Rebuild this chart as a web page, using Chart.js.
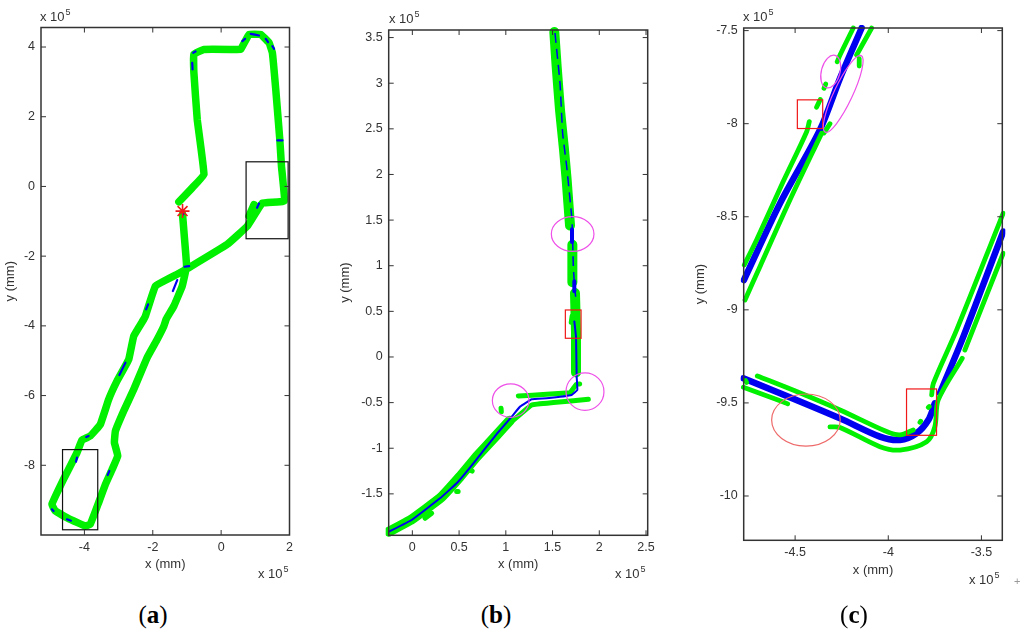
<!DOCTYPE html>
<html>
<head>
<meta charset="utf-8">
<script src="https://cdn.jsdelivr.net/npm/chart.js@4/dist/chart.umd.min.js"></script>
<style>
  html, body { margin: 0; background: #fff; width: 1024px; height: 636px; overflow: hidden; }
  canvas { position: absolute; top: 0; }
  .exp { position: absolute; font: 13px "Liberation Sans", sans-serif; color: #333; white-space: nowrap; }
  .exp sup { font-size: 9px; position: relative; top: -6px; vertical-align: baseline; margin-left: 1px; }
  .cap { position: absolute; top: 601px; font: 25px "Liberation Serif", serif; color: #000; transform: translateX(-50%); }
  .cap b { font-weight: bold; }
  .speck { position: absolute; left: 1014px; top: 575px; font: 11px "Liberation Sans", sans-serif; color: #999; }
</style>
</head>
<body>
<canvas id="chartA" width="337" height="572" style="left:3px"></canvas>
<canvas id="chartB" width="340" height="572" style="left:338px"></canvas>
<canvas id="chartC" width="331" height="578" style="left:693px"></canvas>

<div class="exp" style="left:40px;top:9px">x 10<sup>5</sup></div>
<div class="exp" style="left:258px;top:566px">x 10<sup>5</sup></div>
<div class="exp" style="left:389px;top:11px">x 10<sup>5</sup></div>
<div class="exp" style="left:615px;top:566px">x 10<sup>5</sup></div>
<div class="exp" style="left:743px;top:9px">x 10<sup>5</sup></div>
<div class="exp" style="left:969px;top:572px">x 10<sup>5</sup></div>
<div class="cap" style="left:153px">(<b>a</b>)</div>
<div class="cap" style="left:496px">(<b>b</b>)</div>
<div class="cap" style="left:854px">(<b>c</b>)</div>
<div class="speck">+</div>

<script>
const GREEN = "#00f000";
const BLUE = "#0000f0";
const RED = "#f01818";
const PINK = "#ee50e8";
const INK = "#333";

// panel a, whole route
const aTicksX = [-4, -2, 0, 2];
const aTicksY = [-8, -6, -4, -2, 0, 2, 4];
const aGreenX = [-1.129, -1.07, -1.012, -1.139, -1.383, -1.608, -1.677, -1.872, -2.165, -2.556, -2.849, -3.094, -3.123, -3.025, -3.19, -3.387, -3.583, -3.828, -3.974, -4.463, -4.853, -4.95, -4.609, -4.218, -4.072, -3.828, -3.535, -3.29, -3.045, -2.703, -2.556, -2.263, -2.215, -1.921, -1.285, -0.943, 0.181, 0.766, 1.206, 1.843, 1.765, 1.716, 1.598, 1.5, 1.403, 1.158, 0.816, 0.571, 0.376, -0.503, -0.797, -0.797, -0.699, -0.503, -0.846, -1.237, null, 0.963, 0.816];
const aGreenY = [-0.8, -1.52, -2.285, -2.86, -3.43, -3.81, -4.01, -4.39, -4.91, -5.82, -6.44, -7.02, -7.35, -7.73, -8.12, -8.55, -9.07, -9.69, -9.74, -9.53, -9.31, -9.12, -8.4, -7.64, -7.28, -7.16, -6.83, -6.11, -5.58, -4.96, -4.29, -3.81, -3.72, -2.86, -2.52, -2.33, -1.66, -1.14, -0.48, -0.42, 0.58, 1.35, 2.78, 3.83, 4.12, 4.36, 4.36, 3.93, 3.93, 3.93, 3.79, 3.26, 1.92, 0.34, -0.04, -0.44, null, -0.52, -0.85];
const aBlueX = [0.865, 1.109, null, 1.305, 1.373, null, 1.5, 1.549, null, 1.647, 1.794, null, -0.816, -0.748, null, -0.846, -0.836, null, 1.051, 1.109, null, -1.129, -1.109, null, -1.07, -0.934, null, -1.413, -1.285, null, 0.621, 0.699, null, -2.977, -2.8, null, -4.218, -4.247, null, -3.319, -3.27, null, -4.951, -4.902, null, -4.511, -4.394, null, -3.946, -3.877, null, -2.136, -2.195];
const aBlueY = [4.379, 4.331, null, 4.235, 4.14, null, 4.025, 3.948, null, 1.319, 1.319, null, 3.834, 3.872, null, 3.547, 3.356, null, -0.612, -0.488, null, -0.679, -0.803, null, -2.304, -2.285, null, -3.002, -2.686, null, 4.168, 4.235, null, -5.411, -5.057, null, -7.782, -7.897, null, -8.279, -8.164, null, -9.264, -9.312, null, -9.55, -9.589, null, -7.189, -7.161, null, -3.384, -3.528];
const aStartX = [-1.129];
const aStartY = [-0.707];

// panel b, zoom on the right hand corner
const bTicksX = [0, 0.5, 1, 1.5, 2, 2.5];
const bTicksY = [-1.5, -1, -0.5, 0, 0.5, 1, 1.5, 2, 2.5, 3, 3.5];
const bGreenX = [1.519, 1.544, 1.58, 1.623, 1.651, 1.687, null, 1.712, 1.712, null, 1.74, 1.751, 1.751, null, -0.25, -0.007, 0.296, 0.51, 0.688, 0.902, 1.04];
const bGreenY = [3.56, 3.181, 2.706, 2.268, 1.939, 1.44, null, 1.23, 0.82, null, 0.7, 0.259, -0.17, null, -1.914, -1.779, -1.549, -1.311, -1.092, -0.855, -0.7];
const bThinX = [1.063, 1.277, 1.509, 1.883, null, 1.134, 1.437, 1.687, null, 1.69, 1.755, 1.79, null, 0.949, 0.952, null, 0.474, 0.49, null, 0.207, 0.136, null, 0.617, 0.64, null, 1.71, 1.7];
const bThinY = [-0.708, -0.526, -0.5, -0.464, null, -0.427, -0.409, -0.391, null, -0.39, -0.3, -0.295, null, -0.562, -0.599, null, -1.475, -1.475, null, -1.713, -1.768, null, -1.238, -1.25, null, 0.45, 0.38];
const bDashX = [1.526, 1.58, 1.608, 1.651, 1.705, 1.712, 1.722, 1.733, 1.747];
const bDashY = [3.55, 3.0, 2.45, 2.09, 1.54, 1.4, 1.0, 0.81, 0.66];
const bThickX = [1.708, 1.708, null, 1.733, 1.733];
const bThickY = [1.4, 1.26, null, 0.83, 0.72];
const bBlueX = [1.733, 1.751, 1.758, 1.765, 1.705, 1.437, 1.277, 1.152, 1.063, 0.902, 0.653, 0.474, 0.296, -0.007, -0.25];
const bBlueY = [0.39, 0.22, -0.215, -0.362, -0.416, -0.453, -0.464, -0.544, -0.654, -0.844, -1.165, -1.384, -1.549, -1.786, -1.914];

// panel c, zoom on the bottom corner
const cTicksX = [-4.5, -4, -3.5];
const cTicksY = [-10, -9.5, -9, -8.5, -8, -7.5];
const cBlueX = [-4.775, -4.581, -4.367, -4.259, -4.143, null, -4.778, -4.581, -4.259, -4.045, -3.937, -3.848, -3.785, -3.75, null, -3.723, -3.597, -3.383];
const cBlueY = [-8.84, -8.428, -8.034, -7.756, -7.486, null, -9.368, -9.448, -9.583, -9.681, -9.699, -9.663, -9.592, -9.502, null, -9.448, -9.144, -8.58];
const cGreenX = [-4.773, -4.707, -4.564, -4.438, -4.424, null, -4.385, -4.365, null, -4.336, -4.345, null, -4.274, -4.259, -4.188, null, -4.769, -4.689, -4.528, -4.358, null, -4.345, -4.313, null, -4.17, -4.089, null, -4.156, -4.156, null, -4.703, -4.492, -4.259, -4.009, -3.937, -3.866, null, -3.83, -3.826, null, -3.785, -3.78, null, -3.767, -3.758, -3.633, -3.401, -3.383, null, -4.778, -4.581, -4.54, null, -4.313, -4.259, -4.045, -3.937, -3.794, -3.75, -3.732, -3.603, null, -3.589, -3.383, null, -4.766, -4.76];
const cGreenY = [-8.759, -8.625, -8.311, -8.043, -7.989, null, -7.912, -7.87, null, -7.787, -7.81, null, -7.667, -7.631, -7.486, null, -8.947, -8.768, -8.41, -8.052, null, -8.05, -8.0, null, -7.631, -7.486, null, -7.65, -7.69, null, -9.355, -9.439, -9.538, -9.654, -9.672, -9.645, null, -9.604, -9.598, null, -9.524, -9.519, null, -9.457, -9.395, -9.108, -8.526, -8.481, null, -9.416, -9.488, -9.505, null, -9.629, -9.632, -9.735, -9.753, -9.708, -9.628, -9.484, -9.26, null, -9.216, -8.696, null, -9.38, -9.39];

const pts = (xs, ys) => xs.map((x, i) => ({ x: x, y: ys[i] }));

function line(data, color, width, dash, tension) {
    return {
        data: data,
        showLine: true,
        pointRadius: 0,
        borderColor: color,
        borderWidth: width,
        borderDash: dash || [],
        borderCapStyle: dash ? "butt" : "round",
        borderJoinStyle: "round",
        // no tension would switch on the fast path, and that one drops the short pieces
        tension: tension || 0.08,
        clip: 3,
    };
}

// boxes and rings in data units, the rings rotate in degrees
const framePlugin = {
    id: "frame",
    afterDatasetsDraw(chart, args, opts) {
        const ctx = chart.ctx;
        const { left, right, top, bottom } = chart.chartArea;
        const sx = chart.scales.x;
        const sy = chart.scales.y;
        ctx.save();
        (opts.rects || []).forEach((r) => {
            ctx.strokeStyle = r.color;
            ctx.lineWidth = 1.2;
            ctx.strokeRect(sx.getPixelForValue(r.x0), sy.getPixelForValue(r.y0),
                sx.getPixelForValue(r.x1) - sx.getPixelForValue(r.x0),
                sy.getPixelForValue(r.y1) - sy.getPixelForValue(r.y0));
        });
        (opts.rings || []).forEach((r) => {
            ctx.strokeStyle = r.color;
            ctx.lineWidth = 1.2;
            ctx.beginPath();
            ctx.ellipse(sx.getPixelForValue(r.cx), sy.getPixelForValue(r.cy),
                Math.abs(sx.getPixelForValue(r.cx + r.rx) - sx.getPixelForValue(r.cx)),
                Math.abs(sy.getPixelForValue(r.cy + r.ry) - sy.getPixelForValue(r.cy)),
                (r.rot || 0) * Math.PI / 180, 0, Math.PI * 2);
            ctx.stroke();
        });
        ctx.strokeStyle = INK;
        ctx.lineWidth = 1;
        ctx.beginPath();
        sx.ticks.forEach((t) => {
            const p = sx.getPixelForValue(t.value);
            ctx.moveTo(p, top); ctx.lineTo(p, top + 5);
            ctx.moveTo(p, bottom); ctx.lineTo(p, bottom - 5);
        });
        sy.ticks.forEach((t) => {
            const p = sy.getPixelForValue(t.value);
            ctx.moveTo(left, p); ctx.lineTo(left + 5, p);
            ctx.moveTo(right, p); ctx.lineTo(right - 5, p);
        });
        ctx.stroke();
        ctx.lineWidth = 1.5;
        ctx.strokeRect(left, top, right - left, bottom - top);
        ctx.restore();
    },
};

function axis(min, max, ticks, title, padding, size) {
    return {
        type: "linear",
        min: min,
        max: max,
        afterBuildTicks: (s) => { s.ticks = ticks.map((value) => ({ value: value })); },
        afterFit: (s) => {
            if (s.isHorizontal()) s.height = size; else s.width = size;
        },
        grid: { display: false, drawTicks: false },
        border: { display: false },
        ticks: {
            autoSkip: false,
            maxRotation: 0,
            padding: padding,
            color: INK,
            font: { family: "Liberation Sans", size: 12.5 },
            callback: (v) => String(v),
        },
        title: {
            display: true,
            text: title,
            color: INK,
            padding: 0,
            font: { family: "Liberation Sans", size: 13 },
        },
    };
}

function panel(id, datasets, x, y, layout, marks) {
    return new Chart(document.getElementById(id), {
        type: "scatter",
        data: { datasets: datasets },
        options: {
            responsive: false,
            animation: false,
            layout: { padding: { top: layout.top, right: layout.right, left: 0, bottom: 0 } },
            scales: {
                x: axis(x[0], x[1], x[2], "x (mm)", 5, layout.h),
                y: axis(y[0], y[1], y[2], "y (mm)", 6, layout.w),
            },
            plugins: { legend: { display: false }, tooltip: { enabled: false }, frame: marks },
        },
        plugins: [framePlugin],
    });
}

// the first dataset in the list ends up on top
panel("chartA", [
    {
        data: pts(aStartX, aStartY),
        pointStyle: "star",
        pointRadius: 7,
        pointBorderColor: RED,
        pointBorderWidth: 1.6,
        showLine: false,
    },
    line(pts(aBlueX, aBlueY), BLUE, 2.2),
    line(pts(aGreenX, aGreenY), GREEN, 7.5),
], [-5.27, 2, aTicksX], [-10, 4.56, aTicksY],
    { top: 27.5, right: 50.5, w: 38, h: 37 },
    { rects: [
        { x0: 0.73, y0: 0.707, x1: 1.96, y1: -1.5, color: "#111" },
        { x0: -4.64, y0: -7.55, x1: -3.61, y1: -9.85, color: "#111" },
    ] });

panel("chartB", [
    line(pts(bThickX, bThickY), BLUE, 4),
    line(pts(bDashX, bDashY), BLUE, 1.5, [10, 6]),
    line(pts(bBlueX, bBlueY), BLUE, 2),
    line(pts(bThinX, bThinY), GREEN, 5),
    line(pts(bGreenX, bGreenY), GREEN, 10),
], [-0.253, 2.518, bTicksX], [-1.954, 3.583, bTicksY],
    { top: 30, right: 30.3, w: 50.7, h: 36.7 },
    {
        rects: [{ x0: 1.637, y0: 0.515, x1: 1.805, y1: 0.205, color: RED }],
        rings: [
            { cx: 1.715, cy: 1.348, rx: 0.228, ry: 0.19, color: PINK },
            { cx: 1.052, cy: -0.478, rx: 0.196, ry: 0.183, color: PINK },
            { cx: 1.847, cy: -0.38, rx: 0.203, ry: 0.205, color: PINK },
        ],
    });

panel("chartC", [
    line(pts(cGreenX, cGreenY), GREEN, 4.8, null, 0.3),
    line(pts(cBlueX, cBlueY), BLUE, 6.5, null, 0.3),
], [-4.776, -3.388, cTicksX], [-10.238, -7.486, cTicksY],
    { top: 28, right: 21.7, w: 50.7, h: 37.7 },
    {
        rects: [
            { x0: -4.488, y0: -7.872, x1: -4.352, y1: -8.026, color: RED },
            { x0: -3.902, y0: -9.425, x1: -3.741, y1: -9.674, color: RED },
        ],
        rings: [
            { cx: -4.309, cy: -7.72, rx: 0.05, ry: 0.09, rot: 15, color: PINK },
            { cx: -4.242, cy: -7.84, rx: 0.227, ry: 0.05, rot: -64.8, color: PINK },
            { cx: -4.442, cy: -9.592, rx: 0.184, ry: 0.14, color: "#ee6a6a" },
        ],
    });
</script>
</body>
</html>
